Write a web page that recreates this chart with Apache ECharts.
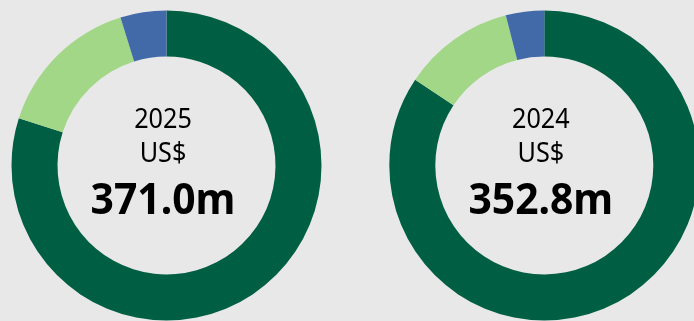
<!DOCTYPE html>
<html>
<head>
<meta charset="utf-8">
<script src="https://cdn.jsdelivr.net/npm/echarts@6/dist/echarts.min.js"></script>
<style>
html,body{margin:0;padding:0;background:#e8e8e8;}
#c{width:694px;height:321px;}
</style>
</head>
<body>
<div id="c"></div>
<script>
const segments = ['Segment A', 'Segment B', 'Segment C'];
const colors = ['#005f43', '#a2d788', '#426aa8'];
const values2025 = [296.5, 56.7, 17.8];
const values2024 = [297.5, 41.2, 14.1];
const years = ['2025', '2024'];
const totals = ['371.0m', '352.8m'];
const currency = 'US$';

const chart = echarts.init(document.getElementById('c'));
const centers = [[166.5, 165.5], [544.3, 165.5]];
const allValues = [values2025, values2024];

const series = allValues.map((vals, i) => ({
  type: 'pie',
  center: centers[i],
  radius: [109, 155],
  startAngle: 90,
  clockwise: true,
  silent: true,
  label: { show: false },
  labelLine: { show: false },
  itemStyle: { borderWidth: 0 },
  data: vals.map((v, j) => ({ name: segments[j], value: v, itemStyle: { color: colors[j] } }))
}));

const graphic = [];
years.forEach((y, i) => {
  const cx = centers[i][0] - 3.5;
  graphic.push({ type: 'text', x: cx, y: 120, scaleX: 0.9, style: { text: y, font: '28px "Noto Sans"', fill: '#000', textAlign: 'center', textVerticalAlign: 'middle' } });
  graphic.push({ type: 'text', x: cx, y: 154, scaleX: 0.9, style: { text: currency, font: '28px "Noto Sans"', fill: '#000', textAlign: 'center', textVerticalAlign: 'middle' } });
  graphic.push({ type: 'text', x: cx, y: 202, scaleX: 0.95, style: { text: totals[i], font: 'bold 43px "Noto Sans"', fill: '#000', textAlign: 'center', textVerticalAlign: 'middle' } });
});

chart.setOption({
  backgroundColor: '#e8e8e8',
  animation: false,
  series: series,
  graphic: graphic
});
</script>
</body>
</html>
